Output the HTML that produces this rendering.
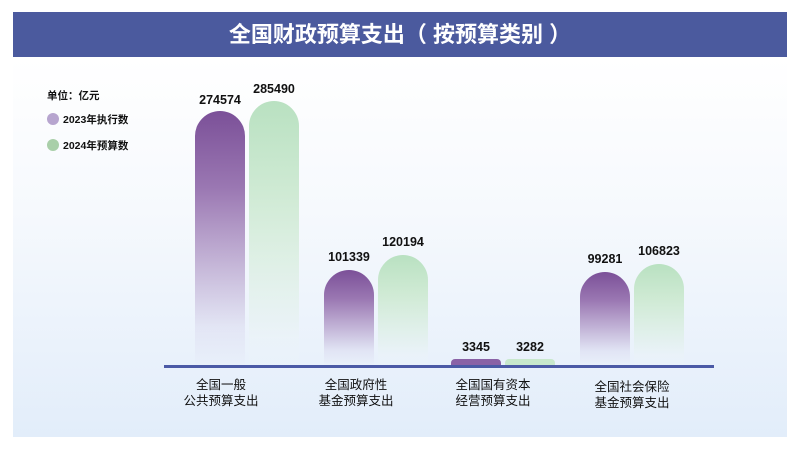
<!DOCTYPE html>
<html><head><meta charset="utf-8"><style>
body{margin:0;width:800px;height:449px;background:#fff;position:relative;overflow:hidden;font-family:"Liberation Sans","Noto Sans CJK SC",sans-serif}
.band{position:absolute;left:13px;top:12px;width:774px;height:45px;background:#4b5a9e;color:#fff;font-weight:bold;font-size:22px;text-align:center;line-height:45px}
.panel{position:absolute;left:13px;top:58px;width:774px;height:379px;background:linear-gradient(#ffffff 0%,#f6f9fd 40%,#e2edfa 100%)}
.bar{position:absolute;width:50px;border-radius:25px 25px 0 0}
.p{background:linear-gradient(#7b5098 0%,#9a77b2 30%,rgba(200,190,225,0.25) 85%,rgba(230,230,245,0.1) 100%)}
.g{background:linear-gradient(#b9e1c1 0%,#cfead4 35%,rgba(235,245,240,0.2) 90%,rgba(240,248,245,0.05) 100%)}
.v{position:absolute;width:80px;text-align:center;font-weight:bold;font-size:12.5px;color:#111}
.c{position:absolute;width:120px;text-align:center;font-size:12.5px;line-height:16px;color:#111}
.axis{position:absolute;left:164px;top:365px;width:550px;height:3px;background:#4b5aa6}
.leg{position:absolute;left:47px;font-size:10.5px;font-weight:bold;color:#111}
.dot{display:inline-block;width:12px;height:12px;border-radius:50%;vertical-align:-2px;margin-right:4px}
</style></head><body>
<div class="band">全国财政预算支出（ 按预算类别 ）</div>
<div class="panel"></div>
<div class="leg" style="top:88px">单位：亿元</div>
<div class="leg" style="top:112px"><span class="dot" style="background:#b7a5cf"></span>2023年执行数</div>
<div class="leg" style="top:138px"><span class="dot" style="background:#a9cfa9"></span>2024年预算数</div>

<div class="bar p" style="left:195px;top:111px;height:254px"></div>
<div class="bar g" style="left:249px;top:101px;height:264px"></div>
<div class="bar p" style="left:324px;top:270px;height:95px"></div>
<div class="bar g" style="left:378px;top:255px;height:110px"></div>
<div class="bar p" style="left:451px;top:359px;height:6px;border-radius:4px 4px 0 0;background:#8a62a6"></div>
<div class="bar g" style="left:505px;top:359px;height:6px;border-radius:4px 4px 0 0;background:#c8e8cc"></div>
<div class="bar p" style="left:580px;top:272px;height:93px"></div>
<div class="bar g" style="left:634px;top:264px;height:101px"></div>

<div class="v" style="left:180px;top:93px">274574</div>
<div class="v" style="left:234px;top:82px">285490</div>
<div class="v" style="left:309px;top:250px">101339</div>
<div class="v" style="left:363px;top:235px">120194</div>
<div class="v" style="left:436px;top:340px">3345</div>
<div class="v" style="left:490px;top:340px">3282</div>
<div class="v" style="left:565px;top:252px">99281</div>
<div class="v" style="left:619px;top:244px">106823</div>

<div class="axis"></div>
<div class="c" style="left:161px;top:377px">全国一般<br>公共预算支出</div>
<div class="c" style="left:296px;top:377px">全国政府性<br>基金预算支出</div>
<div class="c" style="left:433px;top:377px">全国国有资本<br>经营预算支出</div>
<div class="c" style="left:572px;top:379px">全国社会保险<br>基金预算支出</div>
</body></html>
